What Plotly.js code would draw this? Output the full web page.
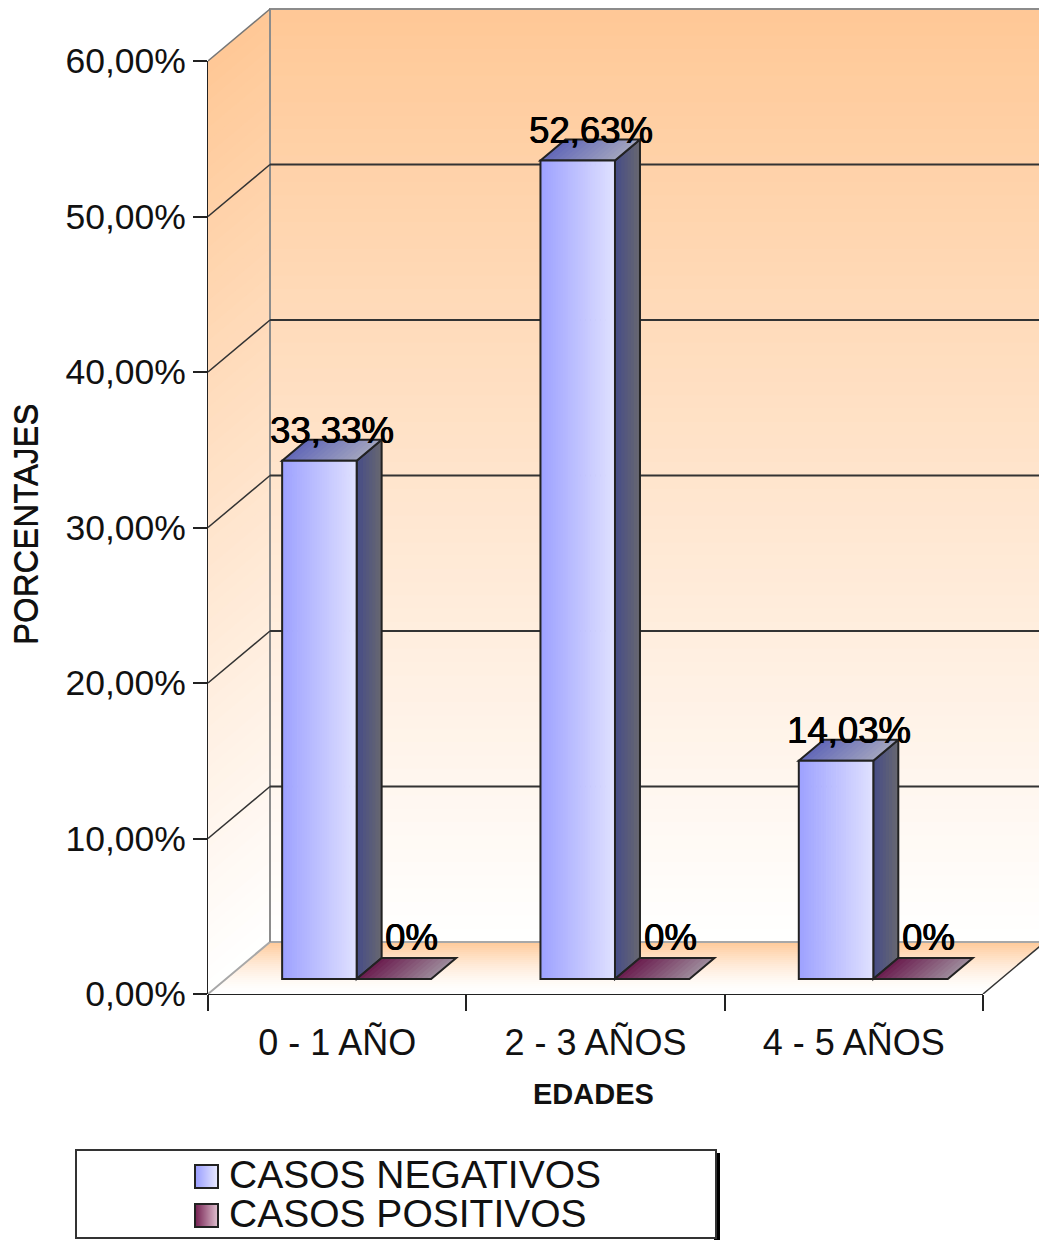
<!DOCTYPE html>
<html>
<head>
<meta charset="utf-8">
<title>Casos por edades</title>
<script src="https://cdn.plot.ly/plotly-3.0.1.min.js"></script>
<style>html,body{margin:0;padding:0;background:#fff;overflow:hidden}</style>
</head>
<body>
<div id="chart" style="width:1039px;height:1240px"></div>
<script>
// Chart data
const ageGroups = ['0 - 1 AÑO', '2 - 3 AÑOS', '4 - 5 AÑOS'];
const negativeCases = [33.33, 52.63, 14.03];
const positiveCases = [0, 0, 0];
const percentTicks = [0, 10, 20, 30, 40, 50, 60];
const seriesNames = ['CASOS NEGATIVOS', 'CASOS POSITIVOS'];
const xTitle = 'EDADES';
const yTitle = 'PORCENTAJES';

// Plot frame, in pixels
const W = 1039, H = 1240, L = 208, T = 6, B = 246;
const plotW = W - L, plotH = H - T - B;
const catPx = 258.33, valPx = 15.55;
const xRange = [-0.5, -0.5 + plotW / catPx];
const yRange = [0, plotH / valPx];

// Projection offsets of the box and of the bars, in axis units
const wallDx = 62 / catPx, wallDy = 52 / valPx;
const barDx = 25 / catPx, barDy = 21 / valPx;
const barLift = 15 / valPx;
const barLeft = -0.213, barWidth = 74.5 / catPx;
const axisEnd = 2.5;
const INK = '#222222';
const FONT = '"Liberation Sans", Arial, sans-serif';

const mix = (a, b, t) => {
  const c = a.map((v, i) => Math.round(v + (b[i] - v) * t));
  return `rgb(${c[0]},${c[1]},${c[2]})`;
};
const poly = pts => 'M' + pts.map(p => p[0] + ',' + p[1]).join('L') + 'Z';
const line = pts => 'M' + pts.map(p => p[0] + ',' + p[1]).join('L');
const shapes = [];
const fillPath = (path, color, layer) => shapes.push({
  type: 'path', path, xref: 'x', yref: 'y', layer: layer || 'below',
  fillcolor: color, line: {width: 0}
});
const strokePath = (path, color, width) => shapes.push({
  type: 'path', path, xref: 'x', yref: 'y', layer: 'below',
  line: {color, width}
});

// Walls and floor shaded from peach to white
const PEACH = [255, 200, 150], WHITE = [255, 255, 255];
const wallTop = Math.max(...percentTicks);
const BANDS = 70;
for (let i = 0; i < BANDS; i++) {
  const v0 = wallTop * i / BANDS, v1 = wallTop * (i + 1.4) / BANDS;
  const top = Math.min(v1, wallTop);
  const col = mix(WHITE, PEACH, Math.pow((i + 0.5) / BANDS, 1.05));
  fillPath(poly([[-0.5 + wallDx, v0 + wallDy], [xRange[1], v0 + wallDy], [xRange[1], top + wallDy], [-0.5 + wallDx, top + wallDy]]), col);
  fillPath(poly([[-0.5, v0], [-0.5 + wallDx, v0 + wallDy], [-0.5 + wallDx, top + wallDy], [-0.5, top]]), col);
}
const FLOOR_BANDS = 26;
for (let i = 0; i < FLOOR_BANDS; i++) {
  const t0 = i / FLOOR_BANDS, t1 = Math.min(1, (i + 1.5) / FLOOR_BANDS);
  const col = mix(WHITE, PEACH, Math.pow((i + 0.5) / FLOOR_BANDS, 1.6) * 0.98);
  const pt = (e, t) => [e + wallDx * t, wallDy * t];
  fillPath(poly([pt(-0.5, t0), pt(axisEnd, t0), pt(axisEnd, t1), pt(-0.5, t1)]), col);
}

// Box edges and gridlines
const EDGE = '#8c8c8c';
strokePath(line([[-0.5, 0], [-0.5 + wallDx, wallDy], [xRange[1], wallDy]]), '#a8a8a8', 2);
strokePath(line([[-0.5 + wallDx, wallDy], [-0.5 + wallDx, wallTop + wallDy], [xRange[1], wallTop + wallDy]]), EDGE, 2);
strokePath(line([[-0.5, wallTop], [-0.5 + wallDx, wallTop + wallDy]]), '#777777', 1.5);
strokePath(line([[axisEnd, 0], [axisEnd + wallDx, wallDy]]), '#333333', 1.5);
percentTicks.filter(v => v > 0 && v < wallTop).forEach(v => {
  strokePath(line([[-0.5, v], [-0.5 + wallDx, v + wallDy]]), '#333333', 1.5);
  strokePath(line([[-0.5 + wallDx, v + wallDy], [xRange[1], v + wallDy]]), '#333333', 2);
});

// Front axis lines, kept outside the plot clip
shapes.push({type: 'line', xref: 'paper', yref: 'y', layer: 'below', x0: 0, x1: 0, y0: 0, y1: wallTop, line: {color: INK, width: 2}});
shapes.push({type: 'line', xref: 'x', yref: 'paper', layer: 'below', x0: -0.5, x1: axisEnd, y0: 0, y1: 0, line: {color: INK, width: 2}});

// Side and top faces of the bars
const FACE_SLICES = 14;
const FRONT = [[157, 161, 255], [224, 225, 255]];
const SIDE = [[70, 76, 135], [104, 104, 112]];
const TOP = [[98, 104, 184], [162, 164, 190]];
const POS_TOP = [[106, 28, 78], [158, 140, 156]];
const drawTop = (x0, base, shade) => {
  for (let s = 0; s < FACE_SLICES; s++) {
    const a = x0 + barWidth * s / FACE_SLICES;
    const b = x0 + barWidth * Math.min(1, (s + 1.4) / FACE_SLICES);
    fillPath(poly([[a, base], [b, base], [b + barDx, base + barDy], [a + barDx, base + barDy]]), mix(shade[0], shade[1], (s + 0.5) / FACE_SLICES));
  }
  strokePath(poly([[x0, base], [x0 + barWidth, base], [x0 + barWidth + barDx, base + barDy], [x0 + barDx, base + barDy]]), INK, 2);
};
negativeCases.forEach((v, c) => {
  const x0 = c + barLeft, xr = x0 + barWidth, top = barLift + v;
  for (let s = 0; s < 8; s++) {
    const a = barDx * s / 8, b = barDx * Math.min(1, (s + 1.4) / 8);
    fillPath(poly([[xr + a, barLift + barDy * s / 8], [xr + b, barLift + barDy * (s + 1) / 8], [xr + b, top + barDy * (s + 1) / 8], [xr + a, top + barDy * s / 8]]), mix(SIDE[0], SIDE[1], (s + 0.5) / 8));
  }
  strokePath(poly([[xr, barLift], [xr + barDx, barLift + barDy], [xr + barDx, top + barDy], [xr, top]]), INK, 2);
  drawTop(x0, top, TOP);
  drawTop(xr, barLift + positiveCases[c], POS_TOP);
});

// Front faces are bar traces, one per shading slice
const traces = [];
const BAR_SLICES = 30;
for (let s = 0; s < BAR_SLICES; s++) {
  const t = (s + 0.5) / BAR_SLICES;
  traces.push({
    type: 'bar', x: ageGroups, y: negativeCases, base: barLift,
    offset: barLeft + barWidth * s / BAR_SLICES,
    width: barWidth * 1.3 / BAR_SLICES * (s === BAR_SLICES - 1 ? 1 / 1.3 : 1),
    marker: {color: mix(FRONT[0], FRONT[1], t), line: {width: 0}},
    showlegend: false, hoverinfo: 'skip'
  });
}
traces.push({
  type: 'bar', name: seriesNames[0], x: ageGroups, y: negativeCases, base: barLift,
  offset: barLeft, width: barWidth,
  marker: {color: 'rgba(0,0,0,0)', line: {color: INK, width: 2}}, showlegend: false
});
traces.push({
  type: 'bar', name: seriesNames[1], x: ageGroups, y: positiveCases, base: barLift,
  offset: barLeft + barWidth, width: barWidth,
  marker: {color: 'rgb(122,50,96)', line: {color: INK, width: 2}}, showlegend: false
});

// Value labels
const pctText = v => v === 0 ? '0%' : v.toFixed(2).replace('.', ',') + '%';
const annotations = [];
const labelFont = {family: FONT, size: 36.5, color: '#000000', shadow: '0.6px 0 0 #000, -0.3px 0 0 #000'};
negativeCases.forEach((v, c) => annotations.push({
  xref: 'x', yref: 'y', x: c + barLeft + barWidth / 2 + 13 / catPx, y: barLift + v + 30 / valPx,
  text: pctText(v), showarrow: false, xanchor: 'center', yanchor: 'middle', font: labelFont
}));
positiveCases.forEach((v, c) => annotations.push({
  xref: 'x', yref: 'y', x: c + barLeft + barWidth * 1.5 + 18 / catPx, y: barLift + v + 42 / valPx,
  text: pctText(v), showarrow: false, xanchor: 'center', yanchor: 'middle', font: labelFont
}));

// Pixel helpers for the parts placed outside the plot
const px = x => (x - L) / plotW;
const py = y => (T + plotH - y) / plotH;
const paperText = (x, y, text, size, extra) => annotations.push(Object.assign({
  xref: 'paper', yref: 'paper', x: px(x), y: py(y), text, showarrow: false,
  xanchor: 'center', yanchor: 'middle', font: {family: FONT, size, color: '#111111'}
}, extra || {}));

paperText(593, 1094, xTitle, 29, {font: {family: FONT, size: 29, color: '#111111', weight: 700}});
paperText(26, 525, yTitle, 33, {textangle: -90, font: {family: FONT, size: 33, color: '#111111', shadow: '0 0.6px 0 #111'}});

// Key box below the chart
const paperRect = (x0, y0, x1, y1, fill, stroke, width) => shapes.push({
  type: 'rect', xref: 'paper', yref: 'paper', layer: 'above',
  x0: px(x0), x1: px(x1), y0: py(y0), y1: py(y1),
  fillcolor: fill, line: stroke ? {color: stroke, width} : {width: 0}
});
paperRect(714, 1153, 720, 1240, '#000000');
paperRect(76, 1150, 716, 1238, '#ffffff', '#333333', 2);
const swatches = [
  {y: 1165, from: FRONT[0], to: [232, 233, 255]},
  {y: 1204, from: [122, 40, 88], to: [222, 190, 205]}
];
swatches.forEach((s, i) => {
  for (let k = 0; k < 22; k++) {
    paperRect(196 + k, s.y, 197 + k + (k < 21 ? 1 : 0), s.y + 23, mix(s.from, s.to, k / 21));
  }
  paperRect(195, s.y, 218, s.y + 23, 'rgba(0,0,0,0)', '#222222', 2);
  annotations.push({
    xref: 'paper', yref: 'paper', x: px(227), y: py(s.y + 9), text: seriesNames[i], showarrow: false,
    xanchor: 'left', yanchor: 'middle', font: {family: FONT, size: 39, color: '#111111'}
  });
});

const layout = {
  width: W, height: H, margin: {l: L, r: 0, t: T, b: B, pad: 0, autoexpand: false},
  paper_bgcolor: '#ffffff', plot_bgcolor: 'rgba(0,0,0,0)',
  showlegend: false, barmode: 'overlay',
  font: {family: FONT, color: '#111111'},
  xaxis: {
    type: 'category', categoryorder: 'array', categoryarray: ageGroups,
    range: xRange, tickson: 'boundaries', ticks: 'outside', ticklen: 16, tickwidth: 2, tickcolor: INK,
    showline: false, showgrid: false, zeroline: false, fixedrange: true,
    tickfont: {family: FONT, size: 36, color: '#111111'}, ticklabelstandoff: 24, tickangle: 0
  },
  yaxis: {
    range: yRange, tickvals: percentTicks, ticktext: percentTicks.map(v => v.toFixed(2).replace('.', ',') + '%'),
    ticks: 'outside', ticklen: 14, tickwidth: 2, tickcolor: INK,
    showline: false, showgrid: false, zeroline: false, fixedrange: true,
    tickfont: {family: FONT, size: 35.5, color: '#111111'}
  },
  shapes, annotations
};
Plotly.newPlot('chart', traces, layout, {displayModeBar: false, staticPlot: true});
</script>
</body>
</html>
